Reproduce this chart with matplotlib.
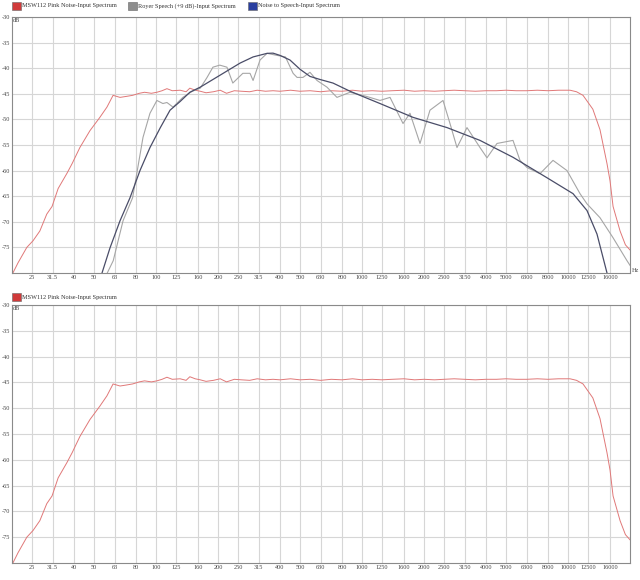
import numpy as np
import matplotlib
matplotlib.use("Agg")
import matplotlib.pyplot as plt
from matplotlib.patches import Rectangle

# third-octave axis labels
freq_ticks = [25, 31.5, 40, 50, 63, 80, 100, 125, 160, 200, 250, 315, 400, 500, 630,
              800, 1000, 1250, 1600, 2000, 2500, 3150, 4000, 5000, 6300, 8000, 10000,
              12500, 16000]
db_ticks = [-30, -35, -40, -45, -50, -55, -60, -65, -70, -75]

# MSW112 pink noise input spectrum
pink_f = [20.2, 21.4, 23.6, 25.3, 27.3, 29.5, 31.3, 33.5, 37, 39.2, 42.7, 47.8, 53.4,
          57.8, 61.9, 66.9, 72, 77, 83, 88, 95, 101, 107, 113, 120, 131, 140, 146, 155,
          164, 175, 190, 205, 220, 240, 260, 285, 310, 340, 370, 400, 450, 500, 560,
          630, 710, 800, 900, 1000, 1120, 1250, 1400, 1600, 1800, 2000, 2250, 2500,
          2800, 3150, 3550, 4000, 4500, 5000, 5600, 6300, 7100, 8000, 9000, 10230,
          11000, 11830, 13200, 14300, 15460, 16000, 16550, 17900, 19000, 20000]
pink_db = [-80, -78, -75, -73.7, -71.8, -68.5, -67, -63.5, -60.5, -58.6, -55.5, -52.2,
           -49.6, -47.6, -45.3, -45.7, -45.5, -45.3, -44.9, -44.7, -44.9, -44.7, -44.4,
           -44.0, -44.4, -44.3, -44.6, -43.9, -44.3, -44.5, -44.8, -44.6, -44.3, -44.9,
           -44.4, -44.5, -44.6, -44.3, -44.5, -44.4, -44.5, -44.3, -44.5, -44.4, -44.6,
           -44.4, -44.5, -44.3, -44.5, -44.4, -44.5, -44.4, -44.3, -44.5, -44.4, -44.5,
           -44.4, -44.3, -44.4, -44.5, -44.4, -44.4, -44.3, -44.4, -44.4, -44.3, -44.4,
           -44.3, -44.3, -44.6, -45.3, -48, -52, -58.6, -62, -67, -71.8, -74.5, -75.5]

# Royer speech (+9 dB) input spectrum
royer_f = [58, 62, 69.2, 77, 86.5, 93.5, 101, 108, 113, 121, 135, 150, 164, 177, 189,
           204, 221, 236, 264, 286, 296, 320, 346, 387, 425, 463, 484, 517, 559, 605,
           676, 756, 875, 1050, 1223, 1368, 1582, 1710, 1913, 2138, 2474, 2674, 2892,
           3234, 3740, 4044, 4522, 5408, 5848, 6325, 7314, 8458, 9892, 11438, 12368,
           14302, 16540, 19340, 20000]
royer_db = [-80, -77.6, -69.8, -65.3, -53.5, -48.8, -46.3, -46.9, -46.7, -47.6, -45.7,
            -44.5, -43.9, -41.8, -39.8, -39.4, -39.8, -42.9, -41.0, -41.0, -42.4, -38.4,
            -37.1, -37.5, -37.8, -41.0, -41.8, -41.8, -40.8, -42.4, -43.7, -45.7, -44.7,
            -45.5, -46.3, -45.7, -50.8, -48.8, -54.7, -48.2, -46.3, -50.8, -55.5, -51.6,
            -55.5, -57.5, -54.7, -54.1, -58.0, -59.4, -60.6, -58.0, -60.0, -64.5, -66.5,
            -69.2, -73.1, -77.6, -78.5]

# noise to speech input spectrum
speech_f = [54.7, 59.8, 66.9, 74.8, 83.6, 93.5, 105, 117, 131, 146, 164, 204, 256, 296,
            346, 370, 400, 447, 500, 559, 625, 723, 875, 1223, 1769, 2586, 3740, 5408,
            7910, 10578, 12368, 13830, 15466]
speech_db = [-80, -75.1, -69.8, -65.3, -60.0, -55.5, -51.6, -48.2, -46.5, -44.7, -43.7,
             -41.4, -39.0, -37.8, -37.1, -37.06, -37.5, -38.4, -40.2, -41.6, -42.2, -42.9,
             -44.5, -46.9, -49.6, -51.6, -54.1, -57.4, -61.4, -64.5, -67.8, -72.4, -80]

RED = "#e07878"
GRAY = "#a6a6a6"
DARK = "#4a4d68"
FONT = "Liberation Serif"


def setup(ax, hz=False):
    ax.set_xscale("log")
    ax.set_xlim(20, 20000)
    ax.set_ylim(-80, -30)
    ax.set_xticks(freq_ticks)
    ax.set_xticklabels([("%g" % f) for f in freq_ticks], fontsize=4.5, family=FONT, color="#444")
    ax.xaxis.set_minor_locator(matplotlib.ticker.NullLocator())
    ax.set_yticks(db_ticks)
    ax.set_yticklabels([str(v) for v in db_ticks], fontsize=4.5, family=FONT, color="#444")
    ax.tick_params(length=0, pad=1.5)
    ax.grid(color="#d6d6d6", lw=0.8)
    for s in ax.spines.values():
        s.set_color("#8a8a8a")
        s.set_linewidth(0.8)
    ax.text(0.002, 0.995, "dB", transform=ax.transAxes, fontsize=4.5, family=FONT,
            color="#444", va="top", ha="left")
    if hz:
        ax.text(1.003, 0.0, "Hz", transform=ax.transAxes, fontsize=4.5, family=FONT,
                color="#444", va="bottom", ha="left")


def legend_item(fig, x, y, color, label):
    fig.add_artist(Rectangle((x / 640, 1 - (y + 4) / 580), 9 / 640, 8 / 580,
                             transform=fig.transFigure, facecolor=color,
                             edgecolor="#666", lw=0.4))
    fig.text((x + 10) / 640, 1 - y / 580, label, fontsize=4.5, family=FONT,
             color="#333", va="center", ha="left")


fig = plt.figure(figsize=(6.4, 5.8), dpi=100)
ax1 = fig.add_axes([12 / 640, 1 - 273 / 580, 618 / 640, 256 / 580])
ax2 = fig.add_axes([12 / 640, 1 - 563 / 580, 618 / 640, 258 / 580])

setup(ax1, hz=True)
setup(ax2)

ax1.plot(pink_f, pink_db, color=RED, lw=0.7)
ax1.plot(royer_f, royer_db, color=GRAY, lw=0.8)
ax1.plot(speech_f, speech_db, color=DARK, lw=0.9)

ax2.plot(pink_f, pink_db, color=RED, lw=0.7)

legend_item(fig, 12, 6, "#d03a3a", "MSW112 Pink Noise-Input Spectrum")
legend_item(fig, 128, 6, "#8e8e8e", "Royer Speech (+9 dB)-Input Spectrum")
legend_item(fig, 248, 6, "#2a3fa0", "Noise to Speech-Input Spectrum")
legend_item(fig, 12, 297, "#d03a3a", "MSW112 Pink Noise-Input Spectrum")

fig.savefig("out.png", dpi=100, facecolor="white")
